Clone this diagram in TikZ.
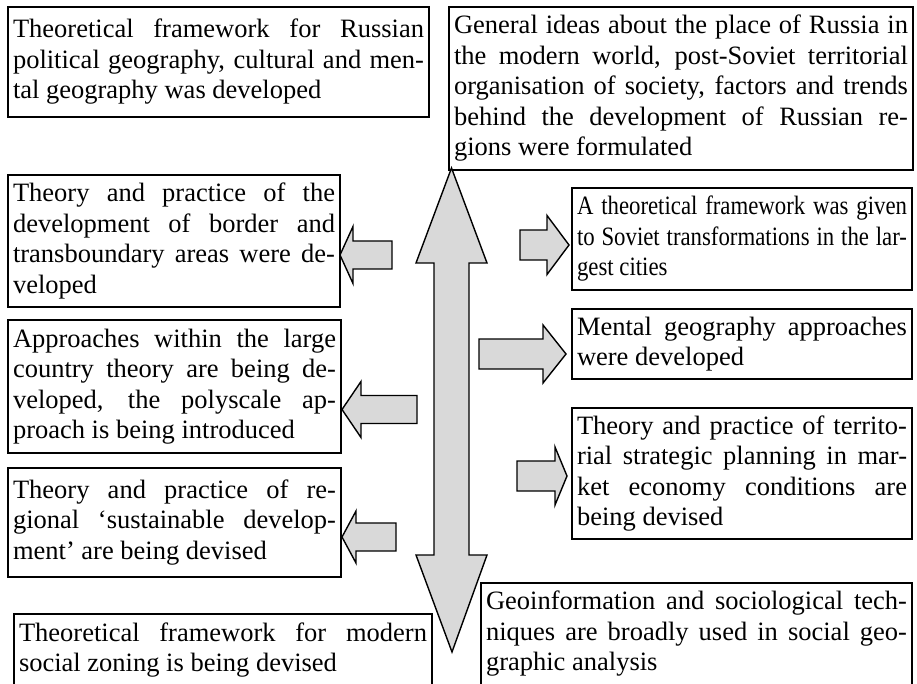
\documentclass[tikz,border=0pt]{standalone}
\usepackage{fontspec}
\setmainfont{Liberation Serif}
\newfontfamily\condensedrm{Liberation Serif}[FakeStretch=0.86]
\tolerance=10000
\hbadness=10000
\tikzset{
  tbox/.style={draw=black, line width=1.6pt, inner xsep=5pt, inner ysep=2pt,
    align=justify, font=\fontsize{26.5}{30.5}\selectfont, anchor=center},
  blk/.style={draw=black, fill=gray!30, line width=1.4pt, line join=miter}
}
\begin{document}
\begin{tikzpicture}[x=1pt,y=-1pt]
\useasboundingbox (0,0) rectangle (917,684);

% boxes
\node[tbox, minimum width=421pt, minimum height=110pt, text width=411pt] (b1) at (218.5,62)
 {Theoretical framework for Russian\linebreak political geography, cultural and men-\linebreak tal geography was developed};
\node[tbox, minimum width=464pt, minimum height=163pt, text width=454pt] (b2) at (681,88.5)
 {General ideas about the place of Russia in\linebreak the modern world, post-Soviet territorial\linebreak organisation of society, factors and trends\linebreak behind the development of Russian re-\linebreak gions were formulated};
\node[tbox, minimum width=332pt, minimum height=132pt, text width=322pt] (l1) at (174,241)
 {Theory and practice of the\linebreak development of border and\linebreak transboundary areas were de-\linebreak veloped};
\node[tbox, minimum width=333pt, minimum height=133pt, text width=323pt] (l2) at (174.5,386.5)
 {Approaches within the large\linebreak country theory are being de-\linebreak veloped, the polyscale ap-\linebreak proach is being introduced};
\node[tbox, minimum width=333pt, minimum height=109pt, text width=323pt] (l3) at (174.5,522.5)
 {Theory and practice of re-\linebreak gional ‘sustainable develop-\linebreak ment’ are being devised};
\node[tbox, minimum width=418pt, minimum height=72pt, text width=408pt] (s1) at (223,650)
 {Theoretical framework for modern\linebreak social zoning is being devised};
\node[tbox, minimum width=340pt, minimum height=102pt, text width=330pt,
      font={\fontsize{26.5}{30.5}\condensedrm}] (r1) at (742,239)
 {A theoretical framework was given\linebreak to Soviet transformations in the lar-\linebreak gest cities};
\node[tbox, minimum width=340pt, minimum height=70pt, text width=330pt] (r2) at (742,344)
 {Mental geography approaches\linebreak were developed};
\node[tbox, minimum width=340pt, minimum height=131pt, text width=330pt] (r3) at (742,473.5)
 {Theory and practice of territo-\linebreak rial strategic planning in mar-\linebreak ket economy conditions are\linebreak being devised};
\node[tbox, minimum width=431pt, minimum height=102pt, text width=421pt] (g1) at (696.5,634)
 {Geoinformation and sociological tech-\linebreak niques are broadly used in social geo-\linebreak graphic analysis};

% big double arrow
\draw[blk] (451.5,168) -- (487,263) -- (469,263) -- (469,555) -- (487,555) -- (452,652)
  -- (416,555) -- (434,555) -- (434,263) -- (416,263) -- cycle;

% left arrows
\draw[blk] (340,255) -- (353,226.5) -- (353,241) -- (392,241) -- (392,269) -- (353,269) -- (353,283.5) -- cycle;
\draw[blk] (342,409.5) -- (361,381.5) -- (361,395.5) -- (417,395.5) -- (417,423.5) -- (361,423.5) -- (361,437.5) -- cycle;
\draw[blk] (342,537) -- (356,511) -- (356,523) -- (396,523) -- (396,551) -- (356,551) -- (356,563) -- cycle;

% right arrows
\draw[blk] (569,245) -- (547,215.5) -- (547,230) -- (520,230) -- (520,260) -- (547,260) -- (547,274.5) -- cycle;
\draw[blk] (566,354) -- (543,325) -- (543,339) -- (479,339) -- (479,369) -- (543,369) -- (543,383) -- cycle;
\draw[blk] (567,476) -- (555,447) -- (555,461) -- (517,461) -- (517,491) -- (555,491) -- (555,505) -- cycle;
\end{tikzpicture}
\end{document}
